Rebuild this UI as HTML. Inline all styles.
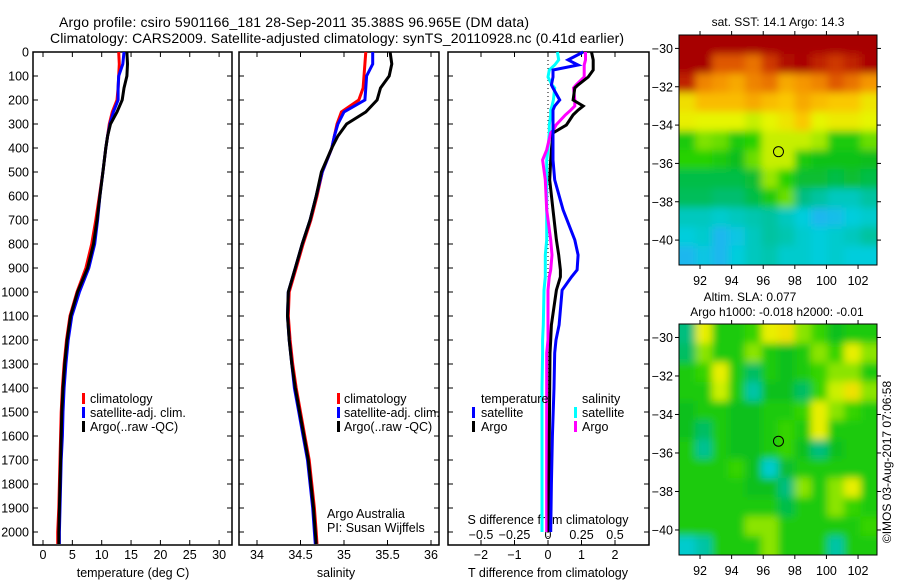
<!DOCTYPE html>
<html><head><meta charset="utf-8"><style>
html,body{margin:0;padding:0;background:#fff;}
svg{display:block;font-family:"Liberation Sans",sans-serif;}
</style></head><body>
<svg id="c" width="900" height="580" viewBox="0 0 900 580">
<defs>
<filter id="blur" x="-5%" y="-5%" width="110%" height="110%"><feGaussianBlur stdDeviation="4" edgeMode="duplicate"/></filter>
<clipPath id="clipSst"><rect x="679" y="35" width="198" height="230"/></clipPath>
<clipPath id="clipSla"><rect x="679" y="324" width="198" height="231"/></clipPath>
</defs>
<text x="294" y="27" font-size="14" text-anchor="middle" textLength="470">Argo profile: csiro 5901166_181 28-Sep-2011 35.388S 96.965E (DM data)</text>
<text x="337" y="43" font-size="14" text-anchor="middle" textLength="574">Climatology: CARS2009. Satellite-adjusted climatology: synTS_20110928.nc (0.41d earlier)</text>
<text x="778" y="26" font-size="12" text-anchor="middle">sat. SST: 14.1  Argo: 14.3</text>
<text x="750" y="301" font-size="12" text-anchor="middle">Altim. SLA: 0.077</text>
<text x="777" y="316" font-size="12" text-anchor="middle">Argo h1000: -0.018 h2000: -0.01</text>
<text transform="translate(891,462) rotate(-90)" font-size="12" text-anchor="middle">©IMOS 03-Aug-2017 07:06:58</text>
<g id="g"></g>
</svg>
<script>
// ---- profile data ----
const depths = [0,50,100,150,200,250,300,350,400,500,600,700,800,900,1000,1100,1200,1300,1400,1500,1600,1700,1800,1900,2000,2050];
const tempClim = [12.9,13.0,12.9,12.8,12.6,11.8,11.3,11.0,10.7,10.2,9.6,9.0,8.3,7.3,5.8,4.6,4.0,3.6,3.3,3.1,3.0,2.9,2.8,2.7,2.5,2.5];
const tempSat  = [13.8,13.6,12.9,12.8,12.8,12.0,11.4,11.0,10.7,10.2,9.7,9.3,8.8,7.8,6.2,4.9,4.3,3.9,3.6,3.4,3.3,3.1,3.0,2.9,2.8,2.8];
const tempArgo = [14.3,14.4,14.3,13.8,13.5,12.6,11.5,11.0,10.7,10.2,9.7,9.2,8.6,7.6,5.9,4.7,4.1,3.7,3.4,3.2,3.1,3.0,2.9,2.8,2.7,2.7];
const salClim = [35.25,35.24,35.23,35.22,35.17,34.97,34.92,34.89,34.86,34.75,34.69,34.62,34.53,34.45,34.37,34.36,34.38,34.41,34.45,34.50,34.55,34.60,34.63,34.66,34.68,34.69];
const salSat  = [35.33,35.33,35.26,35.25,35.24,35.0,34.93,34.89,34.86,34.75,34.68,34.61,34.52,34.44,34.36,34.35,34.37,34.40,34.43,34.48,34.53,34.58,34.61,34.64,34.66,34.67];
const salArgo = [35.53,35.55,35.52,35.42,35.38,35.25,35.03,34.93,34.86,34.74,34.68,34.61,34.52,34.44,34.36,34.35,34.37,34.40,34.44,34.49,34.54,34.59,34.62,34.65,34.67,34.68];
const diffDepths = [0,33,54,75,104,137,150,200,225,242,262,304,325,337,408,450,533,658,783,846,908,937,992,1137,1200,1254,1400,1600,1800,2000];
const dTSat  = [1.05,0.6,0.9,0.15,0.15,0.1,0.15,0.35,0.2,0.15,0.15,0.15,0.15,0.15,0.15,0.15,0.2,0.45,0.8,0.9,0.87,0.7,0.42,0.33,0.24,0.2,0.18,0.13,0.1,0.08];
const dTArgo = [1.3,1.35,1.35,1.35,1.2,0.9,0.8,0.75,1.05,0.9,0.75,0.55,0.3,0.15,0.1,0.08,0.05,0.15,0.25,0.32,0.37,0.37,0.25,0.1,0.08,0.06,0.05,0.04,0.03,0.03];
const dSArgo = [0.28,0.28,0.27,0.27,0.27,0.21,0.19,0.2,0.2,0.17,0.13,0.06,0.04,0.02,-0.01,-0.04,-0.02,-0.01,0.02,0.03,0.02,0.01,0.0,0.0,0.0,-0.01,-0.01,-0.01,-0.01,-0.01];
const dSSat  = [0.07,0.08,0.05,0.01,0.0,0.03,0.05,0.04,0.03,0.02,0.02,0.01,0.01,0.01,0.0,-0.01,-0.01,-0.01,-0.01,-0.02,-0.02,-0.02,-0.03,-0.035,-0.04,-0.04,-0.045,-0.045,-0.045,-0.045];
const depthTicks = [0,100,200,300,400,500,600,700,800,900,1000,1100,1200,1300,1400,1500,1600,1700,1800,1900,2000];
const tempTicks = [0,5,10,15,20,25,30];
const salTicks = [34,34.5,35,35.5,36];
const dTTicks = [-2,-1,0,1,2];
const dSTicks = [-0.5,-0.25,0,0.25,0.5];
// ---- map data (palette index 0..1) ----
const mapLons = [90.67,103.2];
const sstLats = [-29.3,-41.3];
const slaLats = [-29.3,-41.3];
const lonTicks = [92,94,96,98,100,102];
const latTicks = [-30,-32,-34,-36,-38,-40];
const argoLon = 96.965, argoLat = -35.388;
const sstGrid = [
[0.95,0.95,0.95,0.95,0.95,0.95,0.95,0.95,0.95,0.95,0.95,0.95],
[0.95,0.95,0.85,0.85,0.82,0.88,0.92,0.93,0.9,0.88,0.9,0.93],
[0.9,0.8,0.78,0.75,0.8,0.82,0.75,0.78,0.8,0.85,0.82,0.78],
[0.66,0.72,0.72,0.72,0.75,0.72,0.7,0.75,0.72,0.7,0.7,0.65],
[0.63,0.62,0.62,0.62,0.6,0.62,0.65,0.7,0.62,0.64,0.64,0.62],
[0.5,0.56,0.55,0.5,0.52,0.6,0.6,0.6,0.58,0.5,0.5,0.55],
[0.52,0.52,0.5,0.47,0.55,0.6,0.6,0.5,0.48,0.48,0.48,0.47],
[0.45,0.45,0.45,0.45,0.46,0.57,0.52,0.46,0.46,0.45,0.46,0.45],
[0.44,0.44,0.43,0.43,0.45,0.5,0.55,0.42,0.4,0.38,0.38,0.4],
[0.38,0.38,0.37,0.38,0.39,0.4,0.38,0.36,0.33,0.34,0.36,0.37],
[0.36,0.37,0.33,0.35,0.38,0.4,0.39,0.37,0.36,0.37,0.38,0.4],
[0.33,0.35,0.33,0.36,0.38,0.39,0.37,0.37,0.36,0.37,0.36,0.36]];
const slaGrid = [
[0.44,0.6,0.5,0.5,0.52,0.6,0.62,0.55,0.52,0.48,0.5,0.5],
[0.45,0.55,0.5,0.5,0.55,0.5,0.48,0.5,0.55,0.52,0.6,0.55],
[0.5,0.52,0.6,0.5,0.45,0.5,0.48,0.5,0.52,0.55,0.55,0.5],
[0.5,0.5,0.58,0.5,0.42,0.48,0.48,0.45,0.52,0.58,0.62,0.55],
[0.48,0.5,0.5,0.48,0.48,0.5,0.5,0.52,0.6,0.55,0.52,0.5],
[0.48,0.45,0.5,0.48,0.48,0.5,0.52,0.5,0.6,0.5,0.5,0.5],
[0.5,0.43,0.5,0.48,0.48,0.5,0.52,0.48,0.44,0.48,0.5,0.5],
[0.5,0.5,0.5,0.52,0.48,0.4,0.47,0.5,0.5,0.5,0.5,0.5],
[0.5,0.5,0.5,0.5,0.48,0.48,0.44,0.55,0.5,0.55,0.6,0.5],
[0.5,0.5,0.5,0.5,0.5,0.5,0.46,0.5,0.5,0.55,0.52,0.5],
[0.5,0.5,0.5,0.5,0.55,0.55,0.5,0.5,0.5,0.5,0.5,0.52],
[0.4,0.42,0.5,0.5,0.5,0.55,0.5,0.5,0.5,0.42,0.5,0.5]];

const NS='http://www.w3.org/2000/svg';
const G=document.getElementById('g');
function mk(tag,attrs,parent){const e=document.createElementNS(NS,tag);for(const k in attrs)e.setAttribute(k,attrs[k]);(parent||G).appendChild(e);return e;}
const yZ=z=>52+0.24*z;
const xT=t=>43+5.87*t;
const xS=s=>257+87*(s-34);
const xDT=d=>548+33.5*d;
const xDS=d=>548+134*d;
const TOP=52,BOT=545;

function frame(x0,x1,name,labels){
  const r=mk('rect',{x:x0,y:TOP,width:x1-x0,height:BOT-TOP,fill:'none',stroke:'#000','stroke-width':1.5});
  
  
  depthTicks.forEach(d=>{
    const y=yZ(d);
    const t1=mk('line',{x1:x0,x2:x0+5,y1:y,y2:y,stroke:'#000'});
    
    
    const t2=mk('line',{x1:x1-5,x2:x1,y1:y,y2:y,stroke:'#000'});
    
    
    if(labels){
      const t=mk('text',{x:29,y:y+4.5,'font-size':12.5,'text-anchor':'end'});
      t.textContent=d;
      
      
    }
  });
}
function xaxis(ticks,fx,ly,name,fmt){
  ticks.forEach(v=>{
    const x=fx(v);
    const a=mk('line',{x1:x,x2:x,y1:TOP,y2:TOP+5,stroke:'#000'});
    
    
    const b=mk('line',{x1:x,x2:x,y1:BOT-5,y2:BOT,stroke:'#000'});
    
    
    const t=mk('text',{x:x,y:ly,'font-size':12.5,'text-anchor':'middle'});
    t.textContent=fmt?fmt(v):String(v);
    
    
  });
}
function line(xs,zs,fx,color,name,w){
  const pts=xs.map((v,i)=>fx(v).toFixed(1)+','+yZ(zs[i]).toFixed(1)).join(' ');
  const p=mk('polyline',{points:pts,fill:'none',stroke:color,'stroke-width':w||3,'stroke-linejoin':'miter'});
  
  
}
function txt(x,y,s,name,size,anchor){
  const t=mk('text',{x:x,y:y,'font-size':size||12.5,'text-anchor':anchor||'start'});
  t.textContent=s;
  
  
}
function legbar(x,y,color,name){
  const r=mk('rect',{x:x,y:y-10,width:3,height:11,fill:color});
  
  
}
// panel 1
frame(33,232,'temperature-panel',true);
xaxis(tempTicks,xT,559,'temperature');
txt(133,577,'temperature (deg C)','temperature-axis-title',12.5,'middle');
line(tempClim,depths,xT,'#f00','temp-climatology-line');
line(tempSat,depths,xT,'#00f','temp-satellite-line');
line(tempArgo,depths,xT,'#000','temp-argo-line');
legbar(82,403,'#f00','legend-climatology-swatch');txt(90,403,'climatology','legend-climatology');
legbar(82,417,'#00f','legend-satellite-swatch');txt(90,417,'satellite-adj. clim.','legend-satellite');
legbar(82,431,'#000','legend-argo-swatch');txt(90,431,'Argo(..raw -QC)','legend-argo');
// panel 2
frame(239,439,'salinity-panel',false);
xaxis(salTicks,xS,559,'salinity');
txt(336,577,'salinity','salinity-axis-title',12.5,'middle');
line(salClim,depths,xS,'#f00','sal-climatology-line');
line(salSat,depths,xS,'#00f','sal-satellite-line');
line(salArgo,depths,xS,'#000','sal-argo-line');
legbar(337,403,'#f00','legend2-climatology-swatch');txt(344,403,'climatology','legend2-climatology');
legbar(337,417,'#00f','legend2-satellite-swatch');txt(344,417,'satellite-adj. clim.','legend2-satellite');
legbar(337,431,'#000','legend2-argo-swatch');txt(344,431,'Argo(..raw -QC)','legend2-argo');
txt(327,518,'Argo Australia','credit-argo-australia');
txt(327,532,'PI: Susan Wijffels','credit-pi');
// panel 3
frame(448,649,'difference-panel',false);
dTTicks.forEach(v=>{const x=xDT(v);
  const a=mk('line',{x1:x,x2:x,y1:BOT-5,y2:BOT,stroke:'#000'});
  const b=mk('line',{x1:x,x2:x,y1:TOP,y2:TOP+5,stroke:'#000'});
  txt(x,559,v<0?'\u2212'+(-v):String(v),'t-diff-tick-label',12.5,'middle');});
dSTicks.forEach(v=>{txt(xDS(v),539,v<0?'\u2212'+String(-v):String(v),'s-diff-tick-label',12.5,'middle');});
txt(548,524,'S difference from climatology','s-diff-axis-title',12.5,'middle');
txt(548,577,'T difference from climatology','t-diff-axis-title',12.5,'middle');
const zl=mk('line',{x1:xDT(0),x2:xDT(0),y1:TOP,y2:BOT,stroke:'#000','stroke-dasharray':'1,3'});


line(dSSat,diffDepths,xDS,'#0ff','s-diff-satellite-line');
line(dSArgo,diffDepths,xDS,'#f0f','s-diff-argo-line');
line(dTArgo,diffDepths,xDT,'#000','t-diff-argo-line');
line(dTSat,diffDepths,xDT,'#00f','t-diff-satellite-line');
txt(481,403,'temperature','legend3-temperature-heading');
legbar(472,417,'#00f','legend3-t-satellite-swatch');txt(481,417,'satellite','legend3-t-satellite');
legbar(472,431,'#000','legend3-t-argo-swatch');txt(481,431,'Argo','legend3-t-argo');
txt(582,403,'salinity','legend3-salinity-heading');
legbar(574,417,'#0ff','legend3-s-satellite-swatch');txt(582,417,'satellite','legend3-s-satellite');
legbar(574,431,'#f0f','legend3-s-argo-swatch');txt(582,431,'Argo','legend3-s-argo');

// maps
const stops=[[0.30,[60,160,255]],[0.36,[0,205,220]],[0.42,[0,190,130]],[0.47,[10,190,30]],[0.52,[40,210,0]],[0.57,[150,230,0]],[0.62,[230,245,0]],[0.70,[250,200,0]],[0.78,[245,150,0]],[0.86,[220,80,0]],[0.93,[170,0,0]],[1.0,[160,0,0]]];
function pal(v){
  if(v<=stops[0][0])return 'rgb('+stops[0][1]+')';
  for(let i=1;i<stops.length;i++){if(v<=stops[i][0]){const a=stops[i-1],b=stops[i];const f=(v-a[0])/(b[0]-a[0]);
    return 'rgb('+a[1].map((c,k)=>Math.round(c+(b[1][k]-c)*f)).join(',')+')';}}
  return 'rgb('+stops[stops.length-1][1]+')';
}
function drawMap(grid,lats,x0,x1,y0,y1,name,xLabY,clipId,gain){
  const lonX=l=>x0+(l-mapLons[0])/(mapLons[1]-mapLons[0])*(x1-x0);
  const latY=l=>y0+(l-lats[0])/(lats[1]-lats[0])*(y1-y0);
  const rows=grid.length,cols=grid[0].length;
  const cw=(x1-x0)/cols,ch=(y1-y0)/rows;
  const outer=mk('g',{'clip-path':'url(#'+clipId+')'});
  
  
  const inner=mk('g',{filter:'url(#blur)'},outer);
  grid.forEach((row,r)=>row.forEach((v,c)=>{
    const vv=0.5+(v-0.5)*gain;
    const e=mk('rect',{x:(x0+c*cw-(c===0?8:0)).toFixed(2),y:(y0+r*ch-(r===0?8:0)).toFixed(2),width:(cw+0.6+(c===0||c===cols-1?8:0)).toFixed(2),height:(ch+0.6+(r===0||r===rows-1?8:0)).toFixed(2),fill:pal(vv)},inner);
    
    
  }));
  const f=mk('rect',{x:x0,y:y0,width:x1-x0,height:y1-y0,fill:'none',stroke:'#000','stroke-width':1});
  
  
  lonTicks.forEach(l=>{const x=lonX(l);
    const a=mk('line',{x1:x,x2:x,y1:y1,y2:y1+4,stroke:'#000'});
    const b=mk('line',{x1:x,x2:x,y1:y0-4,y2:y0,stroke:'#000'});
    txt(x,xLabY,String(l),name+'-lon-label',12.5,'middle');});
  latTicks.forEach(l=>{const y=latY(l);
    const a=mk('line',{x1:x0-4,x2:x0,y1:y,y2:y,stroke:'#000'});
    const b=mk('line',{x1:x1,x2:x1+4,y1:y,y2:y,stroke:'#000'});
    txt(x0-6,y+4.5,'\u2212'+(-l),name+'-lat-label',12.5,'end');});
  const m=mk('circle',{cx:lonX(argoLon),cy:latY(argoLat),r:5,fill:'none',stroke:'#000','stroke-width':1});
  
  
}
drawMap(sstGrid,sstLats,679,877,35,265,'sst-map',285,'clipSst',1.0);
drawMap(slaGrid,slaLats,679,877,324,555,'sla-map',575,'clipSla',1.3);
</script>
</body></html>
